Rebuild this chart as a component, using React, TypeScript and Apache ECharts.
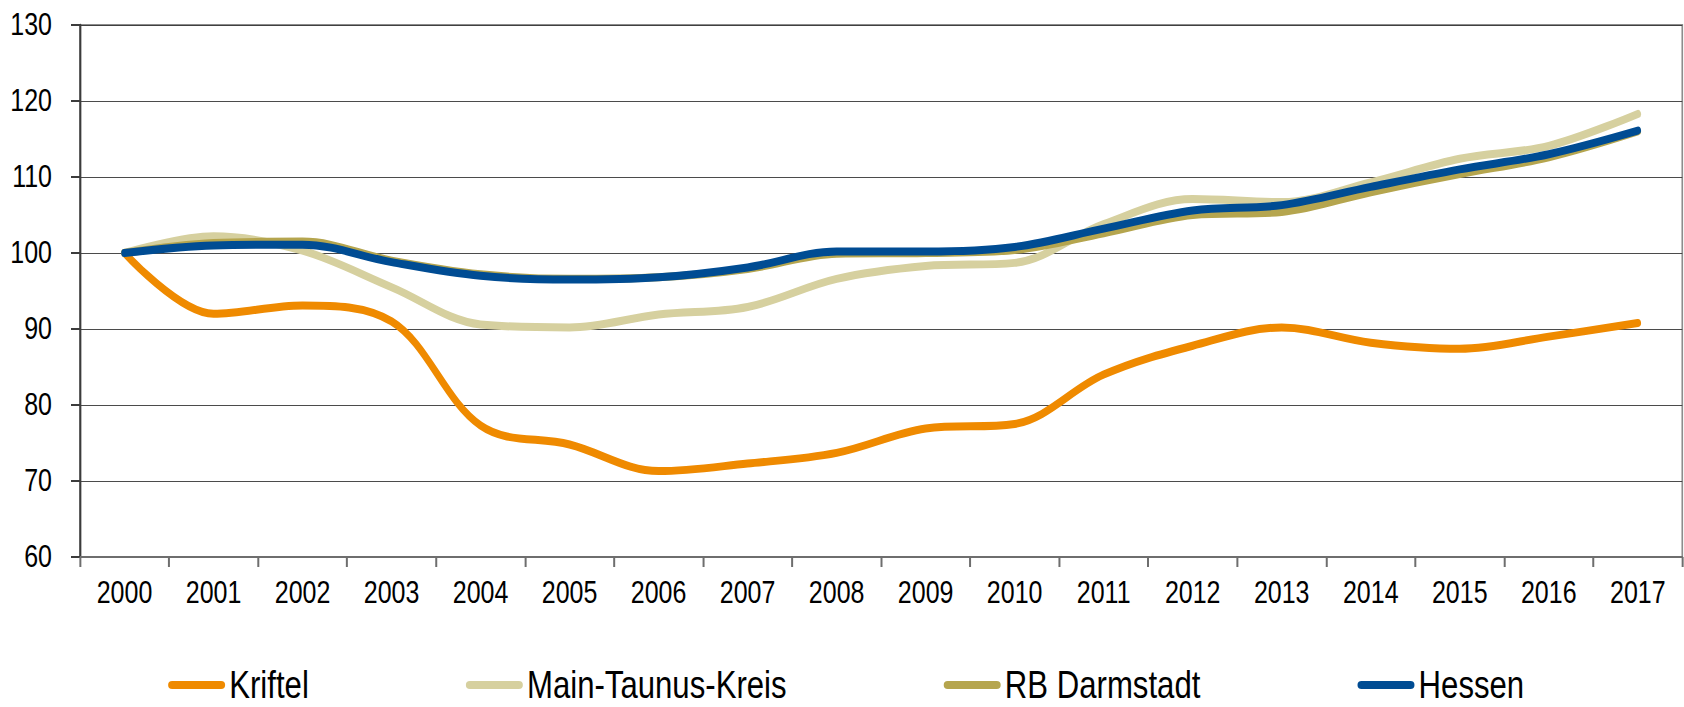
import React, { useEffect, useRef } from "react";
import * as echarts from "echarts";

const years = ["2000","2001","2002","2003","2004","2005","2006","2007","2008","2009","2010","2011","2012","2013","2014","2015","2016","2017"];
const kriftel = [100, 92.0, 93.1, 91.0, 77.3, 74.8, 71.3, 72.3, 73.7, 76.9, 77.5, 84.0, 87.8, 90.2, 88.2, 87.4, 89.0, 90.8];
const mainTaunus = [100, 102.2, 100.3, 95.5, 90.6, 90.2, 91.9, 92.9, 96.6, 98.3, 98.7, 103.8, 107.1, 106.7, 109.3, 112.4, 114.1, 118.3];
const rbDarmstadt = [100, 101.3, 101.5, 99.0, 97.2, 96.6, 96.8, 97.9, 99.9, 100.0, 100.4, 102.6, 105.0, 105.4, 108.0, 110.4, 112.6, 116.0];
const hessen = [100, 101.0, 101.1, 98.8, 97.0, 96.5, 96.8, 98.1, 100.2, 100.2, 100.8, 103.2, 105.6, 106.3, 108.7, 111.0, 113.0, 116.1];

const seriesNames = ["Kriftel", "Main-Taunus-Kreis", "RB Darmstadt", "Hessen"];
const seriesColors = ["#EF8A00", "#D6D09F", "#B5A54E", "#004C93"];
const yTicks = { min: 60, max: 130, interval: 10 };

// The reference uses a narrow (Arial Narrow-like) face; none is installed,
// so the chart is drawn wider and condensed horizontally as a whole.
const SX = 0.82;
const W = 1684;
const H = 707;
const FONT = "'Liberation Sans', Arial, sans-serif";

export default function App() {
  const ref = useRef<HTMLDivElement>(null);
  useEffect(() => {
    if (!ref.current) return;
    const chart = echarts.init(ref.current, undefined, { renderer: "svg" });
    const data = [kriftel, mainTaunus, rbDarmstadt, hessen];
    const iw = 57 / SX;
    const rx = 4 / SX;
    chart.setOption({
      animation: false,
      backgroundColor: "#ffffff",
      grid: {
        left: 80 / SX, right: 2 / SX, top: 25, bottom: 150,
        show: true, borderColor: "#8c8c8c", borderWidth: 2,
      },
      legend: {
        left: 164 / SX, top: 661,
        itemGap: 157 / SX, itemWidth: iw, itemHeight: 8,
        icon: `path://M${rx},0 H${iw - rx} A${rx},4 0 0 1 ${iw - rx},8 H${rx} A${rx},4 0 0 1 ${rx},0 Z`,
        textStyle: { fontFamily: FONT, fontSize: 38, color: "#000" },
        data: seriesNames,
      },
      xAxis: {
        type: "category",
        data: years,
        boundaryGap: true,
        axisLine: { show: true, lineStyle: { color: "#6e6e6e", width: 2 } },
        axisTick: { show: true, length: 10, lineStyle: { color: "#6e6e6e", width: 2 / SX } },
        axisLabel: { fontFamily: FONT, fontSize: 30.5, color: "#000", margin: 20, interval: 0 },
        splitLine: { show: false },
      },
      yAxis: {
        type: "value",
        min: yTicks.min, max: yTicks.max, interval: yTicks.interval,
        axisLine: { show: true, lineStyle: { color: "#3c3c3c", width: 2 / SX } },
        axisTick: { show: true, length: 9 / SX, lineStyle: { color: "#3c3c3c", width: 2 } },
        axisLabel: { fontFamily: FONT, fontSize: 30.5, color: "#000", margin: 28 / SX },
        splitLine: { show: true, lineStyle: { color: "#383838", width: 1 } },
      },
      series: seriesNames.map((name, i) => ({
        name,
        type: "line",
        data: data[i],
        smooth: 0.35,
        symbol: "none",
        showSymbol: false,
        color: seriesColors[i],
        lineStyle: { color: seriesColors[i], width: 8, cap: "round", join: "round" },
        z: 2 + i,
      })),
    });
    return () => chart.dispose();
  }, []);
  return (
    <div style={{ position: "absolute", left: 0, top: 0, width: W, height: H, overflow: "hidden" }}>
      <div
        ref={ref}
        style={{ width: W / SX, height: H, transform: `scaleX(${SX})`, transformOrigin: "0 0" }}
      />
    </div>
  );
}
